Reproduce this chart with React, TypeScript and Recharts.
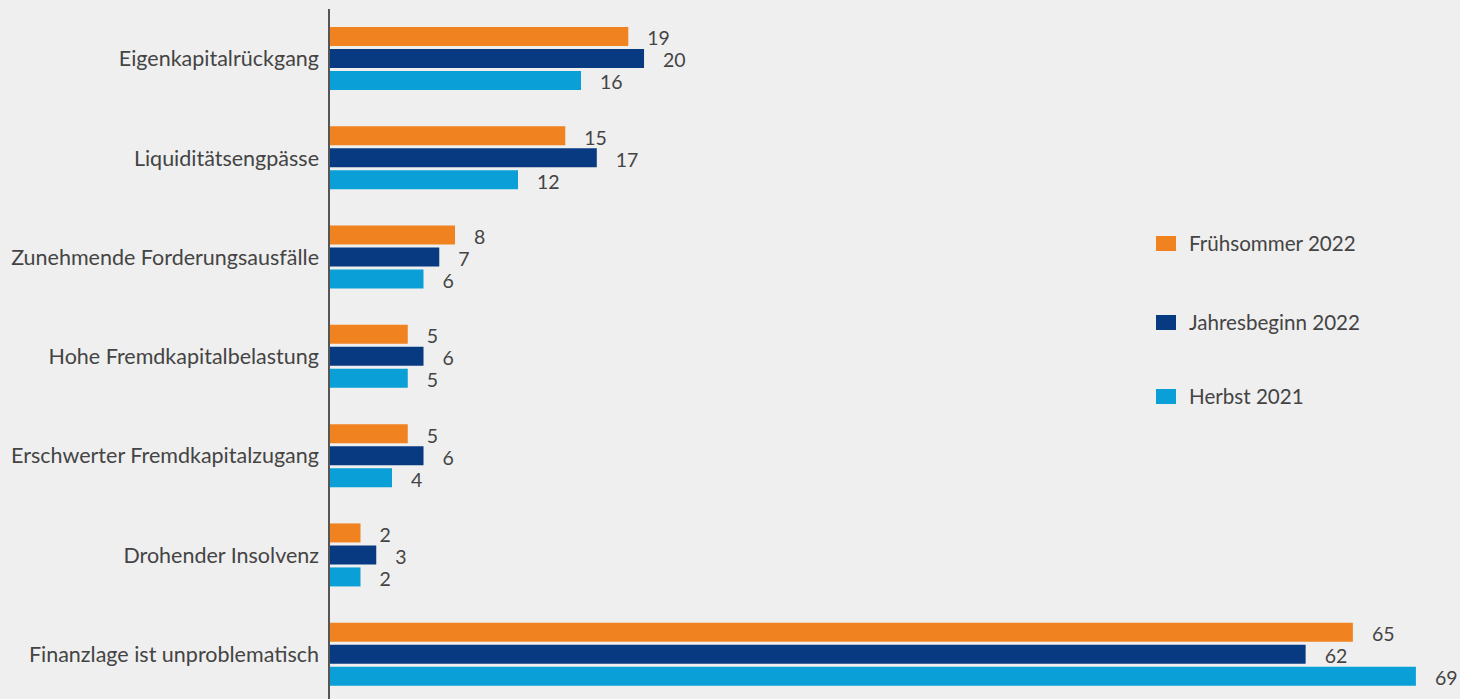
import React from "react";
import { BarChart, Bar, XAxis, YAxis, LabelList } from "recharts";

const categories = [
  "Eigenkapitalrückgang",
  "Liquiditätsengpässe",
  "Zunehmende Forderungsausfälle",
  "Hohe Fremdkapitalbelastung",
  "Erschwerter Fremdkapitalzugang",
  "Drohender Insolvenz",
  "Finanzlage ist unproblematisch",
];

const fruehsommer2022 = [19, 15, 8, 5, 5, 2, 65];
const jahresbeginn2022 = [20, 17, 7, 6, 6, 3, 62];
const herbst2021 = [16, 12, 6, 5, 4, 2, 69];

const seriesNames = ["Frühsommer 2022", "Jahresbeginn 2022", "Herbst 2021"];
const seriesColors = ["#f0831f", "#073a80", "#0a9fd7"];

const data = categories.map((name, i) => ({
  name,
  s0: fruehsommer2022[i],
  s1: jahresbeginn2022[i],
  s2: herbst2021[i],
}));

const FONT = "Lato, 'Noto Sans', sans-serif";
const TEXT = "#444";

// value label a bit to the right of the bar end, slightly below centre
const ValueLabel = (props: any) => {
  const { x, y, width, height, value } = props;
  return (
    <text
      x={x + width + 19}
      y={y + height / 2 + 4}
      dominantBaseline="middle"
      fill={TEXT}
      fontSize={19.5}
      fontFamily={FONT}
    >
      {value}
    </text>
  );
};

// legend sits on its own so it does not shrink the plot
const LegendBox = () => {
  const rows = [243, 322, 396];
  return (
    <div style={{ position: "absolute", left: 1156, top: 0, width: 300 }}>
      {seriesNames.map((n, i) => (
        <div
          key={n}
          style={{
            position: "absolute",
            left: 0,
            top: rows[i] - 12,
            height: 24,
            display: "flex",
            alignItems: "center",
            fontFamily: FONT,
            fontSize: 20.6,
            color: TEXT,
            whiteSpace: "nowrap",
          }}
        >
          <span
            style={{
              display: "inline-block",
              width: 20,
              height: 15,
              background: seriesColors[i],
              marginRight: 13,
            }}
          />
          {n}
        </div>
      ))}
    </div>
  );
};

export default function App() {
  return (
    <div
      style={{
        position: "absolute",
        left: 0,
        top: 0,
        width: 1460,
        height: 699,
        overflow: "hidden",
        background: "#efefef",
      }}
    >
      <BarChart
        width={1460}
        height={704}
        data={data}
        layout="vertical"
        margin={{ top: 9, right: 0, left: 0, bottom: 0 }}
        barGap={3}
      >
        <XAxis type="number" domain={[0, 71.8]} hide />
        <YAxis
          type="category"
          dataKey="name"
          width={329}
          tickLine={false}
          tickMargin={4}
          axisLine={{ stroke: "#555", strokeWidth: 2 }}
          tick={{ fill: TEXT, fontSize: 21.5, fontFamily: FONT }}
        />
        {["s0", "s1", "s2"].map((k, i) => (
          <Bar
            key={k}
            dataKey={k}
            name={seriesNames[i]}
            fill={seriesColors[i]}
            barSize={19}
            isAnimationActive={false}
          >
            <LabelList dataKey={k} content={<ValueLabel />} />
          </Bar>
        ))}
      </BarChart>
      <LegendBox />
    </div>
  );
}
